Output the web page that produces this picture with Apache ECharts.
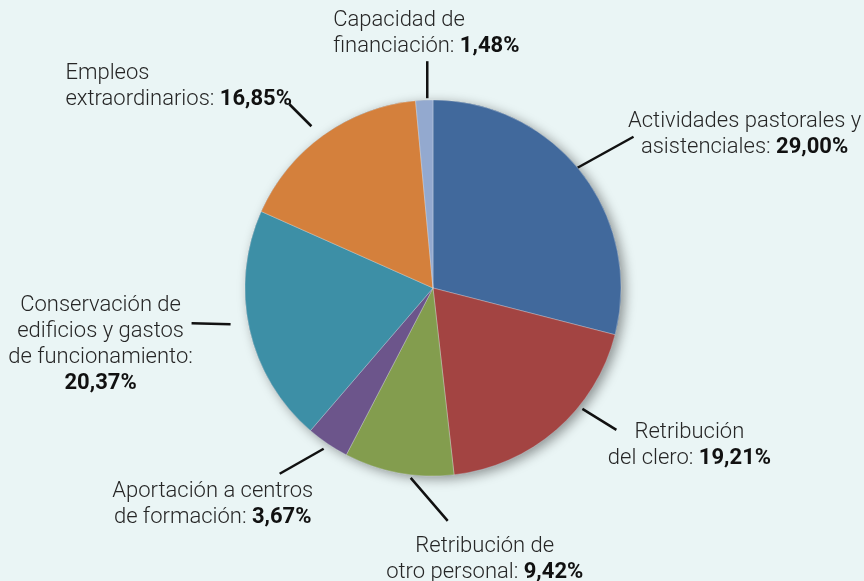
<!DOCTYPE html>
<html>
<head>
<meta charset="utf-8">
<script src="https://cdn.jsdelivr.net/npm/echarts@6/dist/echarts.min.js"></script>
<style>
  html, body { margin: 0; padding: 0; background: #eaf5f5; }
  #chart { width: 864px; height: 581px; }
</style>
</head>
<body>
<div id="chart"></div>
<script>
// data
const categories = [
  'Actividades pastorales y\nasistenciales',
  'Retribución\ndel clero',
  'Retribución de\notro personal',
  'Aportación a centros\nde formación',
  'Conservación de\nedificios y gastos\nde funcionamiento',
  'Empleos\nextraordinarios',
  'Capacidad de\nfinanciación'
];
const shares = [29.00, 19.21, 9.42, 3.67, 20.37, 16.85, 1.48];
const sliceColors = ['#41699c', '#a34442', '#839d4e', '#6c558b', '#3d8fa6', '#d4803c', '#93a9cf'];

// pie geometry
const CX = 433, CY = 288, R = 188;

// leader line and label placement, offsets from the outer mid point of each slice
const guides = [
  { from: [-4, -5], to: [52, -36], text: [163, -38], align: 'center', own: false },
  { from: [26, -21], to: [60, 0], text: [133, 16], align: 'center', own: false },
  { from: [12, 5], to: [49, 48], text: [86, 87], align: 'center', own: false },
  { from: [-4, 5], to: [-48, 30], text: [-115, 61], align: 'center', own: false },
  { from: [-19, -5], to: [-58, -6], text: [-149, 15], align: 'center', own: true },
  { from: [-12, -9], to: [-34, -31], text: [-258, -49], align: 'left', own: false },
  { from: [3, -2], to: [3, -39], text: [-91, -67], align: 'left', own: false }
];

const total = shares.reduce((a, b) => a + b, 0);

function edgePoint(i) {
  let before = 0;
  for (let k = 0; k < i; k++) before += shares[k];
  const a = (before + shares[i] / 2) / total * 2 * Math.PI;
  return [CX + R * Math.sin(a), CY - R * Math.cos(a)];
}

function fmtPct(v) {
  return v.toFixed(2).replace('.', ',') + '%';
}

const chart = echarts.init(document.getElementById('chart'));

chart.setOption({
  backgroundColor: '#eaf5f5',
  series: [
    {
      // shadow disc under the slices
      type: 'pie',
      center: [CX, CY],
      radius: R,
      silent: true,
      z: 1,
      label: { show: false },
      labelLine: { show: false },
      itemStyle: {
        color: '#6b8294',
        shadowBlur: 12,
        shadowColor: 'rgba(0,0,0,0.4)',
        shadowOffsetX: 4,
        shadowOffsetY: 3
      },
      data: [{ value: 1, name: '' }]
    },
    {
      type: 'pie',
      center: [CX, CY],
      radius: R,
      startAngle: 90,
      clockwise: true,
      z: 2,
      avoidLabelOverlap: false,
      animation: false,
      itemStyle: {
        borderColor: 'rgba(255,255,255,0.35)',
        borderWidth: 0.8
      },
      label: {
        show: true,
        position: 'outside',
        formatter: function (p) {
          const lines = p.name.split('\n').map(s => '{n|' + s + '}');
          const val = '{b|' + fmtPct(p.value) + '}';
          if (guides[p.dataIndex].own) {
            lines[lines.length - 1] = lines[lines.length - 1].replace('}', ':}');
            lines.push(val);
          } else {
            lines[lines.length - 1] = lines[lines.length - 1].replace(/}$/, ': }') + val;
          }
          return lines.join('\n');
        },
        rich: {
          n: { fontFamily: 'Roboto', fontWeight: 300, fontSize: 22, color: '#262626', lineHeight: 26 },
          b: { fontFamily: 'Roboto', fontWeight: 'bold', fontSize: 22, color: '#111111', lineHeight: 26 }
        }
      },
      labelLine: {
        show: true,
        length: 10,
        length2: 10,
        lineStyle: { color: '#111111', width: 2.5 }
      },
      labelLayout: function (params) {
        const i = params.dataIndex;
        const p = edgePoint(i);
        const g = guides[i];
        const s = [p[0] + g.from[0], p[1] + g.from[1]];
        const e = [p[0] + g.to[0], p[1] + g.to[1]];
        return {
          x: p[0] + g.text[0],
          y: p[1] + g.text[1],
          align: g.align,
          verticalAlign: 'middle',
          labelLinePoints: [s, [(s[0] + e[0]) / 2, (s[1] + e[1]) / 2], e]
        };
      },
      data: categories.map((c, i) => ({
        name: c,
        value: shares[i],
        itemStyle: { color: sliceColors[i] }
      }))
    }
  ]
});
</script>
</body>
</html>
